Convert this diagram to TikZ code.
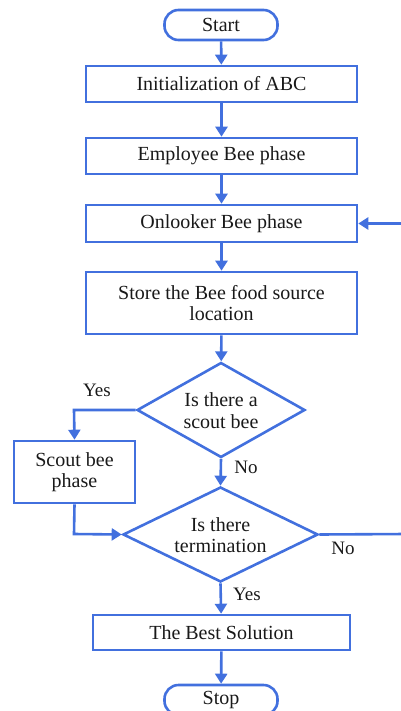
\documentclass[tikz,border=0pt]{standalone}
\usepackage{fontspec}
\setmainfont{Liberation Serif}
\usetikzlibrary{shapes.geometric,arrows.meta}
\definecolor{flowblue}{RGB}{66,112,222}
\begin{document}
\begin{tikzpicture}[x=1pt,y=-1pt,
  every node/.style={font=\rmfamily\fontsize{20}{21.5}\selectfont, text=black!90},
  line/.style={draw=flowblue, line width=2.6pt},
  arr/.style={line, -{Triangle[length=10pt,width=12pt]}},
  procbox/.style={line, rectangle, inner sep=0pt, align=center},
  term/.style={line, rounded corners=14pt, inner sep=0pt},
  lbl/.style={font=\rmfamily\fontsize{19}{22}\selectfont}]
\useasboundingbox (0,0) rectangle (400,711);
\node[term, minimum width=113pt, minimum height=30pt] (start) at (221,25) {Start};
\node[procbox, minimum width=271pt, minimum height=36pt] (init) at (221.5,84) {Initialization of ABC};
\node[procbox, minimum width=271pt, minimum height=36pt] (emp) at (221.5,156) {Employee Bee phase};
\node[procbox, minimum width=271pt, minimum height=37pt] (onl) at (221.5,223.5) {Onlooker Bee phase};
\node[procbox, minimum width=271pt, minimum height=62pt] (store) at (221.5,303) {Store the Bee food source\\location};
\node[line, diamond, aspect=1.77, minimum width=168pt, minimum height=95pt, inner sep=0pt] (d1) at (221,410) {};
\node[align=center] at (221,410.5) {Is there a\\scout bee};
\node[procbox, minimum width=121pt, minimum height=62pt] (scout) at (74.5,472) {Scout bee\\phase};
\node[line, diamond, aspect=2.05, minimum width=195pt, minimum height=95pt, inner sep=0pt] (d2) at (220.5,534.5) {};
\node[align=center] at (220.5,535) {Is there\\termination};
\node[procbox, minimum width=257pt, minimum height=35pt] (best) at (221.5,632.5) {The Best Solution};
\node[term, minimum width=113pt, minimum height=30pt] (stop) at (221,700) {Stop};
\coordinate (yesturn) at (74,410);
\coordinate (joinpt) at (74,534);
\coordinate (loopbr) at (406,534);
\coordinate (looptr) at (406,223.5);

\draw[arr] (start) -- (init);
\draw[arr] (init) -- (emp);
\draw[arr] (emp) -- (onl);
\draw[arr] (onl) -- (store);
\draw[arr] (store) -- (d1);
\draw[arr] (d1.west) -- (yesturn) -- (scout.north);
\draw[arr] (d1.south) -- (d2.north);
\draw[arr] (scout.south) -- (joinpt) -- (d2.west);
\draw[arr] (d2.south) -- (best);
\draw[arr] (best) -- (stop);
\draw[arr] (d2.east) -- (loopbr) -- (looptr) -- (onl.east);

\node[lbl] at (97,390) {Yes};
\node[lbl] at (246,467) {No};
\node[lbl] at (343,548) {No};
\node[lbl] at (247,594) {Yes};
\end{tikzpicture}
\end{document}
